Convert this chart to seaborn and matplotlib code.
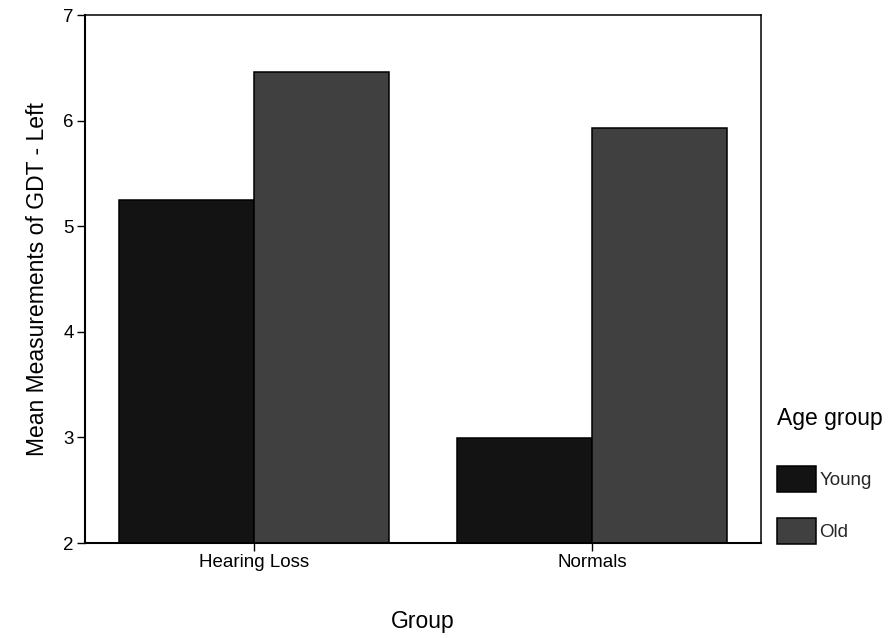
import pandas as pd
import matplotlib
matplotlib.use('Agg')
import matplotlib.pyplot as plt
import seaborn as sns

# ─── data ────────────────────────────────────────────────
groups = ["Hearing Loss", "Hearing Loss", "Normals", "Normals"]
age_groups = ["Young", "Old", "Young", "Old"]
mean_gdt = [5.25, 6.46, 2.99, 5.93]
hue_order = ["Young", "Old"]
palette = {"Young": "#131313", "Old": "#404040"}

df = pd.DataFrame({"Group": groups, "Age group": age_groups, "GDT": mean_gdt})

sns.set_theme(style="white")
plt.rcParams['font.family'] = ['Liberation Sans', 'DejaVu Sans']

fig = plt.figure(figsize=(8.92, 6.38), dpi=100)
ax = fig.add_axes([85 / 892, 1 - 543 / 638, (761 - 85) / 892, (543 - 15) / 638])

sns.barplot(data=df, x="Group", y="GDT", hue="Age group", hue_order=hue_order,
            palette=palette, edgecolor="black", linewidth=1.1, saturation=1,
            width=0.8, ax=ax)

ax.set_xlim(-0.5, 1.5)
ax.set_ylim(2, 7)
ax.set_yticks([2, 3, 4, 5, 6, 7])

for side in ["left", "bottom", "top", "right"]:
    ax.spines[side].set_visible(True)
    ax.spines[side].set_color("black")
    ax.spines[side].set_linewidth(1.1)
ax.spines["left"].set_linewidth(1.5)
ax.spines["bottom"].set_linewidth(1.5)

ax.tick_params(axis="both", which="major", direction="out", length=6, width=1,
               color="black", labelsize=13.5, labelcolor="black", pad=2,
               left=True, bottom=True)

ax.set_xlabel("Group", fontsize=16.5, labelpad=28, color="black")
ax.set_ylabel("Mean Measurements of GDT - Left", fontsize=16.5, labelpad=10, color="black")

# legend: title placed as its own text so the gap matches the original
handles, labels = ax.get_legend_handles_labels()
ax.legend(handles, labels, frameon=False,
          loc="upper left", bbox_to_anchor=(769 / 892, 1 - 458.5 / 638),
          bbox_transform=fig.transFigure,
          fontsize=13.5, handlelength=2.13, handleheight=1.76, handletextpad=0.15,
          labelspacing=1.39, borderaxespad=0)
fig.text(777 / 892, 1 - 419 / 638, "Age group", fontsize=16.5, color="black",
         ha="left", va="center")

fig.savefig("out.png", dpi=100)
plt.close(fig)
